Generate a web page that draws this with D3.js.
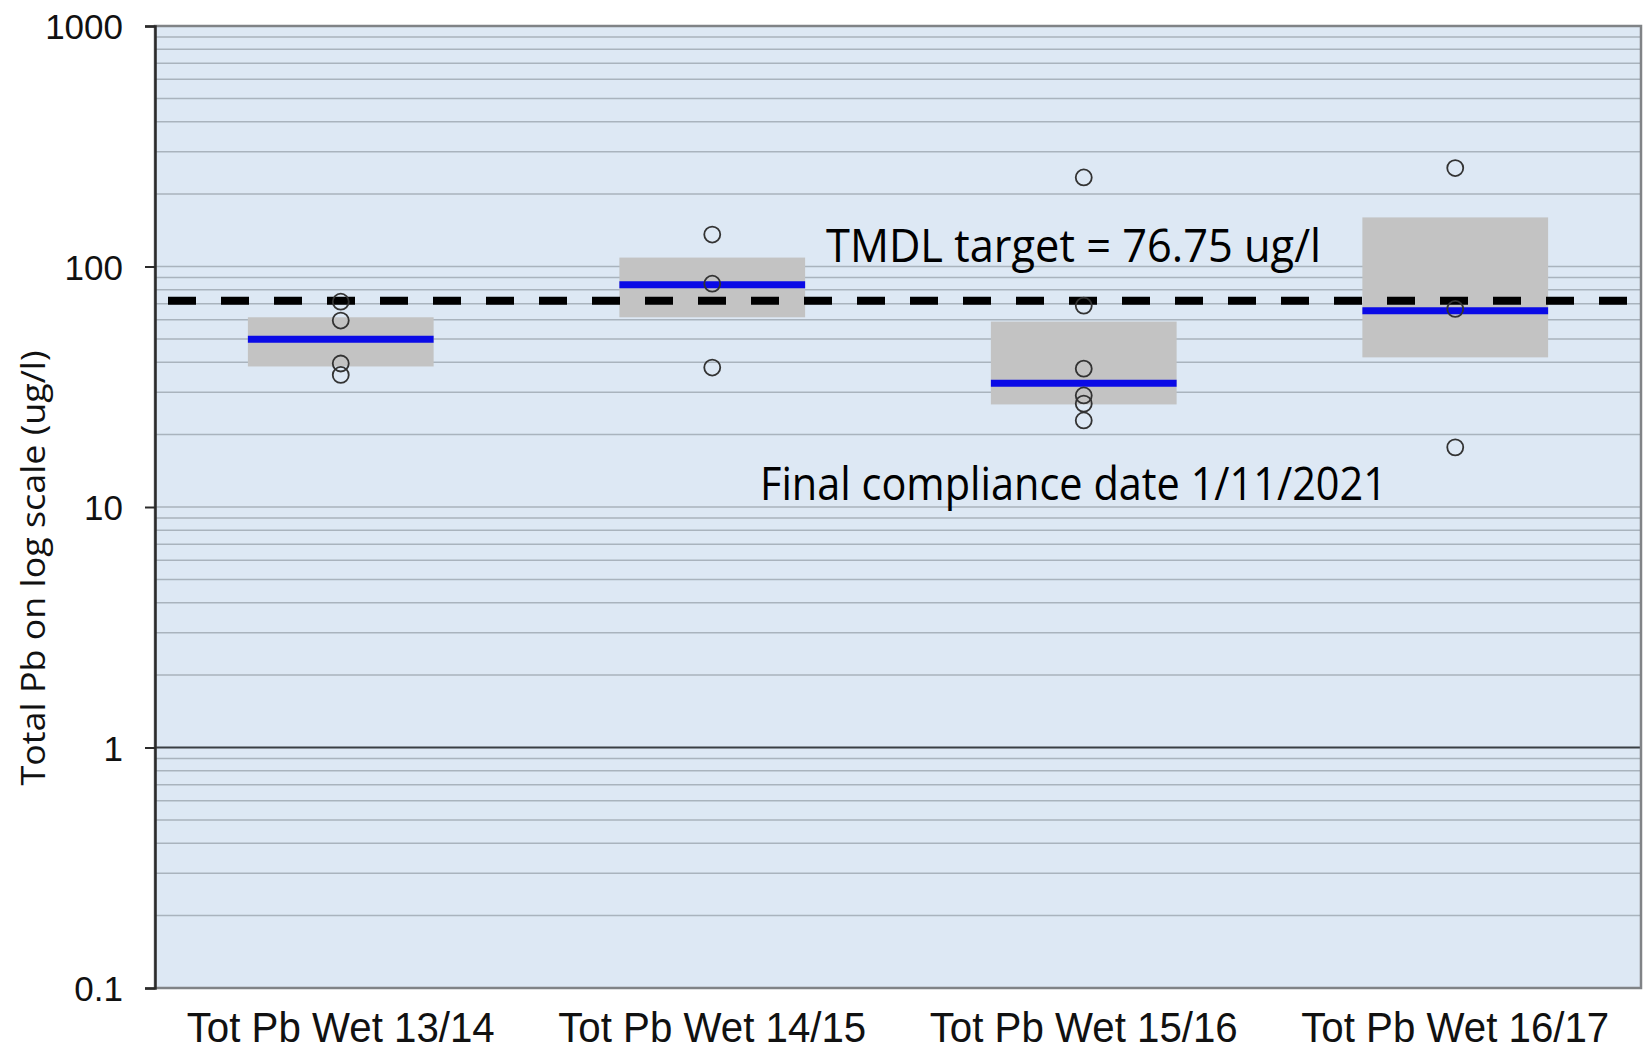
<!DOCTYPE html>
<html>
<head>
<meta charset="utf-8">
<script src="https://cdn.jsdelivr.net/npm/d3@7"></script>
<style>
  body { margin: 0; background: #ffffff; }
  svg { display: block; }
</style>
</head>
<body>
<div id="chart"></div>
<script>
// categories and values
var categories = ["Tot Pb Wet 13/14", "Tot Pb Wet 14/15", "Tot Pb Wet 15/16", "Tot Pb Wet 16/17"];
var boxLow    = [38.4, 61.5, 26.7, 41.9];
var boxHigh   = [61.5, 108.9, 59.0, 160];
var medians   = [49.8, 83.9, 32.7, 65.5];
var samples = [
  [71.4, 59.6, 39.5, 35.4],
  [135.8, 84.8, 38.0],
  [234.6, 68.7, 37.6, 29.1, 26.9, 22.9],
  [256.6, 66.6, 17.7]
];
var yTicks = [0.1, 1, 10, 100, 1000];
var targetValue = 72;
var targetLabel = "TMDL target = 76.75 ug/l";
var dateLabel = "Final compliance date 1/11/2021";
var yTitle = "Total Pb on log scale (ug/l)";

var W = 1644, H = 1053;
// plot area (note: "top" is reserved on window, so use a margin object)
var plot = { left: 155, right: 1641, top: 26, bottom: 988 };

var svg = d3.select("#chart").append("svg")
  .attr("width", W).attr("height", H);

var y = d3.scaleLog().domain([0.1, 1000]).range([plot.bottom, plot.top]);
var x = d3.scaleBand().domain(categories).range([plot.left, plot.right]).padding(0);

// plot background
svg.append("rect")
  .attr("x", plot.left).attr("y", plot.top)
  .attr("width", plot.right - plot.left).attr("height", plot.bottom - plot.top)
  .attr("fill", "#dde8f4");

// minor grid lines (2..9 in each decade, plus decades)
var gridVals = [];
for (var e = -1; e < 3; e++) {
  for (var m = 1; m <= 9; m++) gridVals.push(m * Math.pow(10, e));
}
svg.append("g").selectAll("line")
  .data(gridVals.filter(function(v) { return v > 0.1 + 1e-9 && v < 999; }))
  .enter().append("line")
    .attr("x1", plot.left).attr("x2", plot.right)
    .attr("y1", function(d) { return y(d); })
    .attr("y2", function(d) { return y(d); })
    .attr("stroke", function(d) { return Math.abs(d - 1) < 1e-9 ? "#3a3f44" : "#a9b3bd"; })
    .attr("stroke-width", function(d) { return Math.abs(d - 1) < 1e-9 ? 2 : 1.5; });

// boxes
var bw = x.bandwidth() * 0.5;
svg.append("g").selectAll("rect")
  .data(categories)
  .enter().append("rect")
    .attr("x", function(d) { return x(d) + x.bandwidth() / 2 - bw / 2; })
    .attr("y", function(d, i) { return y(boxHigh[i]); })
    .attr("width", bw)
    .attr("height", function(d, i) { return y(boxLow[i]) - y(boxHigh[i]); })
    .attr("fill", "#c3c3c3");

// medians
svg.append("g").selectAll("line")
  .data(categories)
  .enter().append("line")
    .attr("x1", function(d) { return x(d) + x.bandwidth() / 2 - bw / 2; })
    .attr("x2", function(d) { return x(d) + x.bandwidth() / 2 + bw / 2; })
    .attr("y1", function(d, i) { return y(medians[i]); })
    .attr("y2", function(d, i) { return y(medians[i]); })
    .attr("stroke", "#0a0ae6")
    .attr("stroke-width", 7);

// target dashed line
svg.append("line")
  .attr("x1", 168).attr("x2", 1630)
  .attr("y1", y(targetValue)).attr("y2", y(targetValue))
  .attr("stroke", "#000")
  .attr("stroke-width", 8)
  .attr("stroke-dasharray", "28,25");

// sample points
var pts = [];
samples.forEach(function(arr, i) {
  arr.forEach(function(v) { pts.push({ cat: categories[i], v: v }); });
});
svg.append("g").selectAll("circle")
  .data(pts)
  .enter().append("circle")
    .attr("cx", function(d) { return x(d.cat) + x.bandwidth() / 2; })
    .attr("cy", function(d) { return y(d.v); })
    .attr("r", 8)
    .attr("fill", "none")
    .attr("stroke", "#333")
    .attr("stroke-width", 1.8);

// frame
svg.append("rect")
  .attr("x", plot.left).attr("y", plot.top)
  .attr("width", plot.right - plot.left).attr("height", plot.bottom - plot.top)
  .attr("fill", "none")
  .attr("stroke", "#808386")
  .attr("stroke-width", 2.5);

// y axis
var yAxis = d3.axisLeft(y)
  .tickValues(yTicks)
  .tickFormat(function(d) { return d < 1 ? "0.1" : d3.format("d")(d); })
  .tickSize(10)
  .tickPadding(22);
var ga = svg.append("g").attr("transform", "translate(" + plot.left + ",0)").call(yAxis);
ga.select(".domain").attr("stroke", "#2b2b2b").attr("stroke-width", 2.5);
ga.selectAll(".tick line").attr("stroke", "#2b2b2b").attr("stroke-width", 2);
ga.selectAll(".tick text")
  .attr("font-family", "'Liberation Sans', Arial, sans-serif")
  .attr("font-size", 35)
  .attr("fill", "#111")
  .attr("dy", "0.36em");

// x labels
svg.append("g").selectAll("text")
  .data(categories)
  .enter().append("text")
    .attr("x", function(d) { return x(d) + x.bandwidth() / 2; })
    .attr("y", 1042)
    .attr("text-anchor", "middle")
    .attr("font-family", "'Liberation Sans Narrow', 'Liberation Sans', Arial, sans-serif")
    .attr("font-size", 42)
    .attr("fill", "#111")
    .attr("textLength", 308)
    .attr("lengthAdjust", "spacingAndGlyphs")
    .text(function(d) { return d; });

// y title
svg.append("text")
  .attr("transform", "translate(45," + 568 + ") rotate(-90)")
  .attr("text-anchor", "middle")
  .attr("font-family", "'Open Sans', 'Noto Sans', sans-serif")
  .attr("font-size", 33)
  .attr("fill", "#111")
  .attr("textLength", 435)
  .attr("lengthAdjust", "spacingAndGlyphs")
  .text(yTitle);

// annotations
svg.append("text")
  .attr("x", 826).attr("y", 262)
  .attr("font-family", "'Open Sans', 'Noto Sans', sans-serif")
  .attr("font-size", 45)
  .attr("fill", "#000")
  .attr("textLength", 495)
  .attr("lengthAdjust", "spacingAndGlyphs")
  .text(targetLabel);

svg.append("text")
  .attr("x", 760).attr("y", 500)
  .attr("font-family", "'Open Sans', 'Noto Sans', sans-serif")
  .attr("font-size", 45)
  .attr("fill", "#000")
  .attr("textLength", 627)
  .attr("lengthAdjust", "spacingAndGlyphs")
  .text(dateLabel);
</script>
</body>
</html>
